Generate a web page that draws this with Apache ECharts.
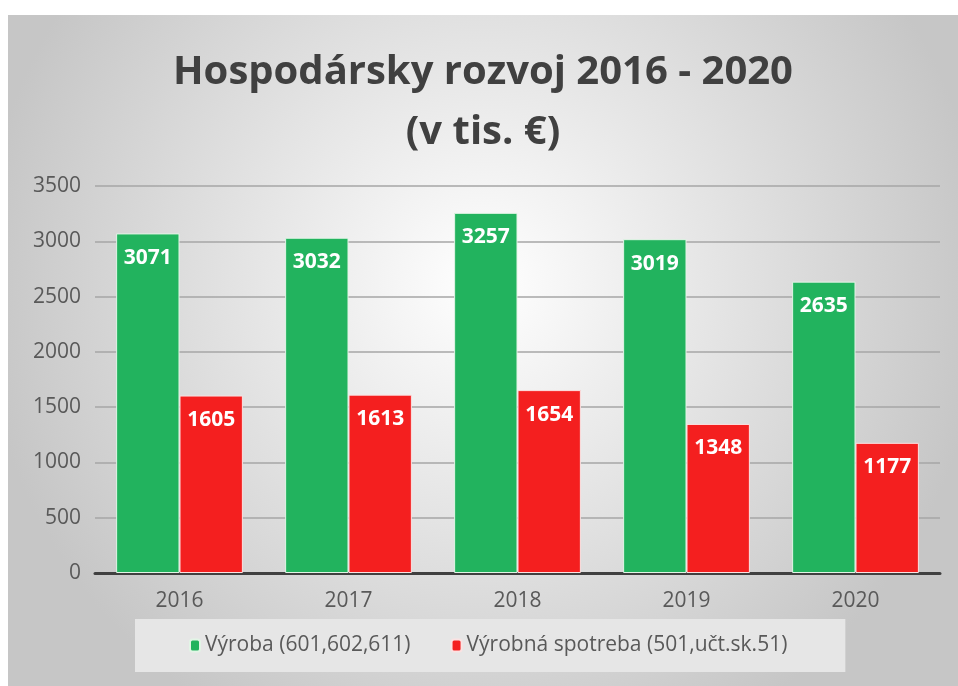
<!DOCTYPE html>
<html>
<head>
<meta charset="utf-8">
<script src="https://cdn.jsdelivr.net/npm/echarts@6/dist/echarts.min.js"></script>
<style>
  html, body { margin: 0; padding: 0; background: #fff; }
  #main { position: absolute; left: 8px; top: 15px; width: 950px; height: 671px; }
</style>
</head>
<body>
<div id="main"></div>
<script>
var years = ['2016', '2017', '2018', '2019', '2020'];
var vyroba = [3071, 3032, 3257, 3019, 2635];
var spotreba = [1605, 1613, 1654, 1348, 1177];
var seriesNames = ['Výroba (601,602,611)', 'Výrobná spotreba (501,učt.sk.51)'];

var font = '"Open Sans", sans-serif';

var myChart = echarts.init(document.getElementById('main'));
var option = {
    backgroundColor: {
        type: 'radial', x: 0.5, y: 0.4, r: 0.75,
        colorStops: [
            { offset: 0, color: '#ffffff' },
            { offset: 1, color: '#c6c6c6' }
        ]
    },
    textStyle: { fontFamily: font },
    title: {
        text: 'Hospodársky rozvoj 2016 - 2020\n(v tis. €)',
        left: 'center',
        top: 23,
        textStyle: {
            fontSize: 40,
            fontWeight: 'bold',
            color: '#404040',
            lineHeight: 60,
            fontFamily: font
        }
    },
    legend: {
        data: seriesNames,
        bottom: 14,
        left: 127,
        backgroundColor: '#e6e6e6',
        padding: [16, 58, 16, 54],
        itemWidth: 10,
        itemHeight: 12,
        itemGap: 40,
        textStyle: { fontSize: 21, color: '#595959', fontFamily: font }
    },
    grid: { left: 87, right: 18, top: 171, bottom: 113 },
    xAxis: {
        type: 'category',
        data: years,
        axisLine: { lineStyle: { color: '#404040', width: 3 } },
        axisTick: { length: 7, lineStyle: { color: '#404040', width: 2 } },
        axisLabel: { fontSize: 21, color: '#595959', margin: 18 }
    },
    yAxis: {
        type: 'value',
        min: 0,
        max: 3500,
        interval: 500,
        axisLine: { show: false },
        axisTick: { show: false },
        axisLabel: {
            fontSize: 21, color: '#595959', margin: 14,
            formatter: function (v) { return String(v); }
        },
        splitLine: { lineStyle: { color: '#a6a6a6', width: 1.5 } }
    },
    series: [{
        name: seriesNames[0],
        type: 'bar',
        data: vyroba,
        barGap: '0%',
        barCategoryGap: '25%',
        itemStyle: { color: '#22b35e', borderColor: '#e2f5e6', borderWidth: 1 },
        label: {
            show: true, position: 'insideTop', distance: 14,
            color: '#ffffff', fontSize: 21, fontWeight: 'bold', fontFamily: font
        }
    }, {
        name: seriesNames[1],
        type: 'bar',
        data: spotreba,
        itemStyle: { color: '#f41f1f', borderColor: '#fbe2e2', borderWidth: 1 },
        label: {
            show: true, position: 'insideTop', distance: 14,
            color: '#ffffff', fontSize: 21, fontWeight: 'bold', fontFamily: font
        }
    }]
};
myChart.setOption(option);
</script>
</body>
</html>
